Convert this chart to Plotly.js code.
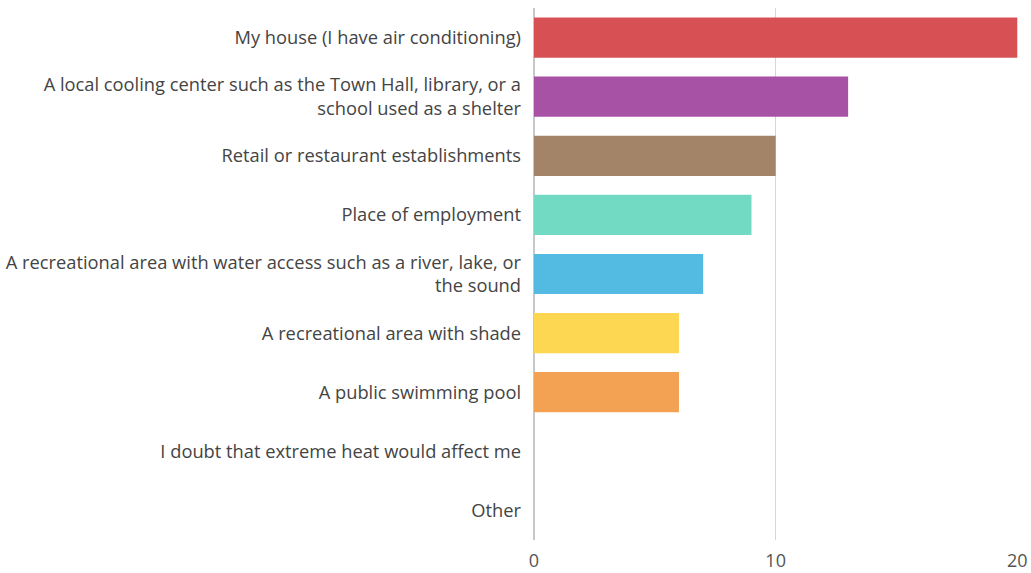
<!DOCTYPE html>
<html><head><meta charset="utf-8">
<script src="https://cdn.plot.ly/plotly-3.0.1.min.js"></script>
<style>html,body{margin:0;padding:0;background:#fff;}#chart{width:1031px;height:573px;}</style>
</head><body><div id="chart"></div>
<script>
const categories = [
  "My house (I have air conditioning)",
  "A local cooling center such as the Town Hall, library, or a<br>school used as a shelter",
  "Retail or restaurant establishments",
  "Place of employment",
  "A recreational area with water access such as a river, lake, or<br>the sound",
  "A recreational area with shade",
  "A public swimming pool",
  "I doubt that extreme heat would affect me",
  "Other"
];
const values = [20, 13, 10, 9, 7, 6, 6, 0, 0];
const barColors = ["#d64b4e", "#a54ca3", "#a08064", "#6dd8c0", "#4db8e0", "#fdd54c", "#f39f4e", "#999999", "#999999"];
const xTicks = [0, 10, 20];

const fam = "'Open Sans', 'Noto Sans', sans-serif";
Plotly.newPlot("chart", [{
  type: "bar",
  orientation: "h",
  y: categories,
  x: values,
  marker: {color: barColors, opacity: 0.97, line: {width: 0}},
  width: 0.68,
  hoverinfo: "x+y"
}], {
  width: 1031, height: 573,
  margin: {l: 534, r: 13, t: 8, b: 33},
  paper_bgcolor: "#fff", plot_bgcolor: "#fff",
  font: {family: fam, size: 18.3, color: "#444"},
  showlegend: false,
  xaxis: {
    range: [0, 20.03], tickvals: xTicks, ticktext: xTicks.map(String),
    showgrid: true, gridcolor: "#d6d6d6", gridwidth: 1,
    zeroline: true, zerolinecolor: "#c8c8c8", zerolinewidth: 1.5, showline: false,
    ticks: "", ticklabelstandoff: 8,
    tickfont: {family: fam, size: 18, color: "#555"}
  },
  yaxis: {
    autorange: "reversed", automargin: false,
    ticks: "", ticklabelstandoff: 12,
    showgrid: false, zeroline: false, showline: false,
    tickfont: {family: fam, size: 18.3, color: "#444"}
  }
}, {displayModeBar: false, staticPlot: true});
</script></body></html>
